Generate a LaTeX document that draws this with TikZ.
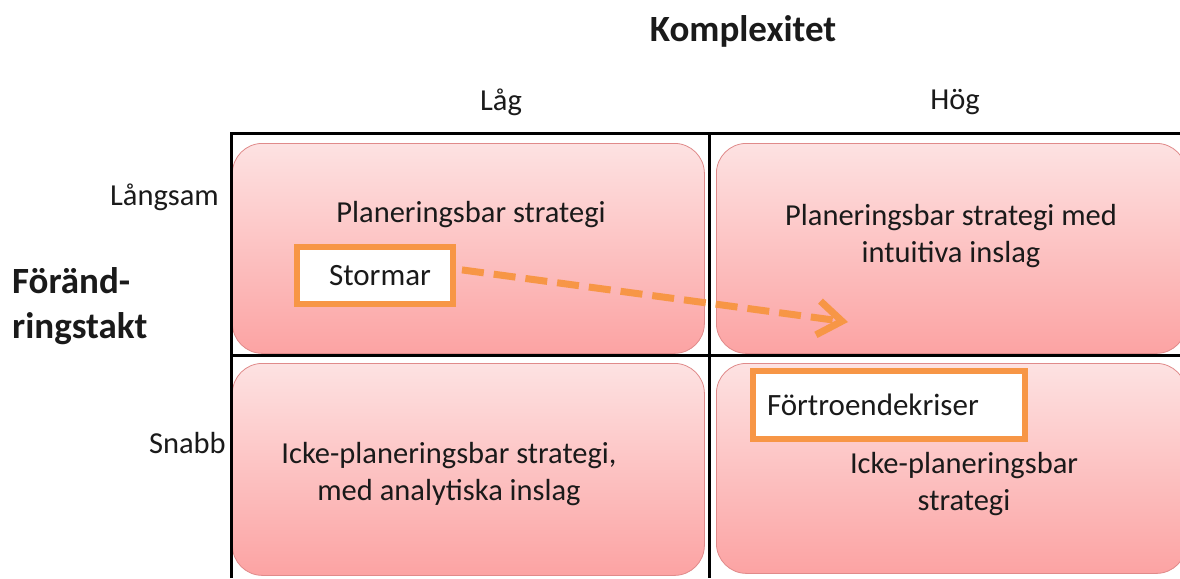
\documentclass[tikz,border=0pt]{standalone}
\usepackage{fontspec}
\setmainfont{Carlito}
\usetikzlibrary{arrows.meta}
\definecolor{boxtop}{HTML}{FDE2E2}
\definecolor{boxbot}{HTML}{FCA3A3}
\definecolor{boxedge}{HTML}{E08A8A}
\definecolor{orng}{HTML}{F79646}
\definecolor{txt}{HTML}{1A1A1A}
\begin{document}
\begin{tikzpicture}[x=1pt,y=-1pt,
  quad/.style={draw=boxedge, line width=0.8pt, rounded corners=30pt, top color=boxtop, bottom color=boxbot, minimum width=#1, minimum height=210pt, inner sep=0pt},
  quadtxt/.style={font=\fontsize{30.5}{37}\selectfont, text=txt, align=center, inner sep=0pt},
  tag/.style={draw=orng, line width=6pt, fill=white, inner sep=0pt, font=\fontsize{31}{34}\selectfont, text=txt},
  axis/.style={font=\fontsize{30.5}{34}\selectfont, text=txt, inner sep=0pt},
  grid/.style={line width=3pt, black}
]
\useasboundingbox (0,0) rectangle (1180,578);
\fill[white] (0,0) rectangle (1180,578);
% quadrants
\node[quad=472pt, anchor=north west] (tl) at (232,143) {};
\node[quad=472pt, minimum height=212pt, anchor=north west] (bl) at (232,363) {};
\node[quad=470pt, anchor=north west] (tr) at (716,143) {};
\node[quad=470pt, anchor=north west] (br) at (716,363) {};
% grid
\coordinate (g1) at (231,133);
\coordinate (g2) at (1180,133);
\coordinate (g3) at (231,578);
\coordinate (g4) at (709,133);
\coordinate (g5) at (709,578);
\coordinate (g6) at (231,355);
\coordinate (g7) at (1180,355);
\draw[grid] (g3) -- (g1) -- (g2);
\draw[grid] (g4) -- (g5);
\draw[grid] (g6) -- (g7);
% headings
\node[font=\fontsize{37}{42}\selectfont\bfseries, text=txt] (kx) at (743,31) {Komplexitet};
\node[axis] (lag) at (501,102) {Låg};
\node[axis] (hog) at (955,102) {Hög};
\node[axis, anchor=east] (lang) at (219,197) {Långsam};
\node[axis, anchor=east] (snabb) at (226,443) {Snabb};
\node[font=\fontsize{37}{45}\selectfont\bfseries, text=txt, align=left, anchor=west, inner sep=0pt] (ft) at (12,306) {Föränd-\\ringstakt};
% quadrant texts
\node[quadtxt] (t1) at (471,215) {Planeringsbar strategi};
\node[quadtxt] (t2) at (951,236) {Planeringsbar strategi med\\intuitiva inslag};
\node[quadtxt] (t3) at (449,474) {Icke-planeringsbar strategi,\\med analytiska inslag};
\node[quadtxt] (t4) at (964,484) {Icke-planeringsbar\\strategi};
% tags
\node[tag, minimum width=156pt, minimum height=57pt] (storm) at (375,275.5) {\hspace*{10pt}Stormar};
\node[tag, minimum width=272pt, minimum height=68pt, text width=252pt, align=left] (fort) at (889,405) {\hspace*{4pt}Förtroendekriser};
% arrow
\coordinate (tip) at (848,322);
\draw[orng, line width=7pt, dash pattern=on 22pt off 10pt, -{Straight Barb[length=24pt, width=34pt, line width=7pt]}, shorten <=3pt] (storm.east) ++(3pt,6pt) -- (tip);
\end{tikzpicture}
\end{document}
